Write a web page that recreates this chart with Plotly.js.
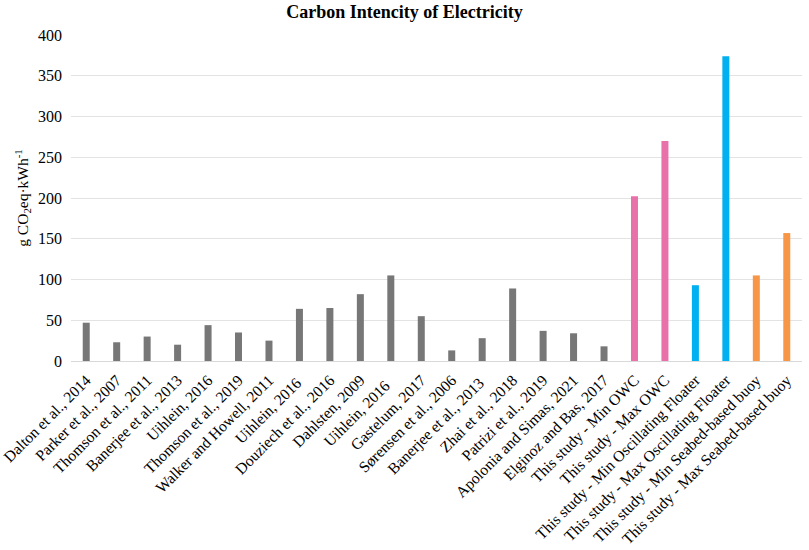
<!DOCTYPE html>
<html>
<head>
<meta charset="utf-8">
<script src="https://cdn.plot.ly/plotly-3.0.1.min.js"></script>
<style>
  html, body { margin: 0; padding: 0; background: #fff; }
  #chart { width: 809px; height: 550px; }
</style>
</head>
<body>
<div id="chart"></div>
<script>
var studies = [
    'Dalton et al., 2014', 'Parker et al., 2007', 'Thomson et al., 2011',
    'Banerjee et al., 2013', 'Uihlein, 2016', 'Thomson et al., 2019',
    'Walker and Howell, 2011', 'Uihlein, 2016 ', 'Douziech et al., 2016',
    'Dahlsten, 2009', 'Uihlein, 2016  ', 'Gastelum, 2017',
    'Sørensen et al., 2006', 'Banerjee et al., 2013 ', 'Zhai et al., 2018',
    'Patrizi et al., 2019', 'Apolonia and Simas, 2021', 'Elginoz and Bas, 2017',
    'This study - Min OWC', 'This study - Max OWC',
    'This study - Min Oscillating Floater', 'This study - Max Oscillating Floater',
    'This study - Min Seabed-based buoy', 'This study - Max Seabed-based buoy'
];

var intensity = [47, 23, 30, 20, 44, 35, 25, 64, 65, 82, 105, 55,
                 13, 28, 89, 37, 34, 18, 202, 270, 93, 374, 105, 157];

var group = ['lit', 'lit', 'lit', 'lit', 'lit', 'lit', 'lit', 'lit', 'lit',
             'lit', 'lit', 'lit', 'lit', 'lit', 'lit', 'lit', 'lit', 'lit',
             'owc', 'owc', 'floater', 'floater', 'seabed', 'seabed'];

var yTicks = [0, 50, 100, 150, 200, 250, 300, 350, 400];

var groupColors = {
    lit: '#777777',
    owc: '#e971aa',
    floater: '#00b0f0',
    seabed: '#f79646'
};

var config = {
    displayModeBar: false
};

var data = [{
    x: studies,
    y: intensity,
    type: 'bar',
    marker: { color: group.map(function (g) { return groupColors[g]; }) },
    hoverinfo: 'x+y'
}];

var layout = {
    width: 809,
    height: 550,
    showlegend: false,
    bargap: 0.77,
    paper_bgcolor: '#fff',
    plot_bgcolor: '#fff',
    font: { family: '"Liberation Serif", "Times New Roman", serif', color: '#000' },
    margin: { l: 71, r: 7, t: 35, b: 189 },
    title: {
        text: '<b>Carbon Intencity of Electricity</b>',
        font: { size: 18, color: '#000' },
        x: 0.5,
        xanchor: 'center',
        y: 0.978,
        yanchor: 'middle'
    },
    xaxis: {
        type: 'category',
        tickangle: -45,
        tickfont: { size: 15.6, color: '#000' },
        showgrid: false,
        showline: true,
        linecolor: '#d9d9d9',
        linewidth: 1,
        ticks: '',
        ticklabelstandoff: 3
    },
    yaxis: {
        range: [0, 400],
        tickvals: yTicks,
        tickfont: { size: 16, color: '#000' },
        gridcolor: '#e3e3e3',
        gridwidth: 1,
        zeroline: false,
        showline: false,
        ticks: '',
        ticklabelstandoff: 8,
        title: {
            text: 'g CO<sub>2</sub>eq·kWh<sup>-1</sup>',
            font: { size: 15.5, color: '#000' },
            standoff: 5
        }
    }
};

Plotly.newPlot('chart', data, layout, config);
</script>
</body>
</html>
